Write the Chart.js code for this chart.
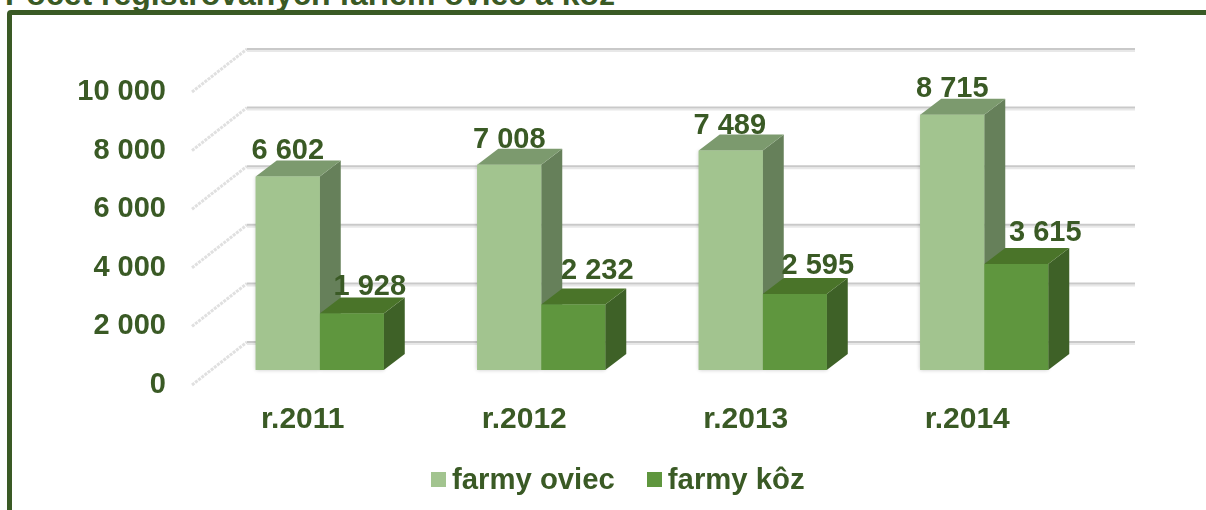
<!DOCTYPE html>
<html><head><meta charset="utf-8">
<script src="https://cdn.jsdelivr.net/npm/chart.js@4"></script>
<style>
html,body{margin:0;padding:0;width:1206px;height:510px;overflow:hidden;background:#fff;font-family:"Liberation Sans",Arial,sans-serif;}
#frame{position:absolute;left:7px;top:10px;width:1300px;height:600px;border:5.5px solid #3A5A25;border-radius:4px;box-sizing:border-box;}
#title{position:absolute;left:5px;top:-24px;font-weight:bold;font-size:32px;color:#3A5A25;white-space:nowrap;line-height:36px;}
#c{position:absolute;left:0;top:0;}
#legend{position:absolute;left:431px;top:462px;display:flex;align-items:center;color:#3A5A25;font-weight:bold;font-size:29.3px;line-height:34px;white-space:nowrap;}
#legend i{display:inline-block;width:15px;height:15px;margin-right:6px;}
#legend span{margin-right:32px;}
</style></head><body>
<div id="title">Počet registrovaných fariem oviec a kôz</div>
<div id="frame"></div>
<canvas id="c" width="1206" height="510"></canvas>
<div id="legend"></div>
<script>
const years = ["r.2011","r.2012","r.2013","r.2014"];
const farmyOviec = [6602,7008,7489,8715];
const farmyKoz = [1928,2232,2595,3615];
const yTicksMax = 10000, yTicksStep = 2000;

const TEXT = '#3A5A25';
const FAMILY = '"Liberation Sans",Arial,sans-serif';
const FONT = {family:FAMILY,weight:'bold',size:29};
const XFONT = {family:FAMILY,weight:'bold',size:30};
const BAR_SHIFT = {x:17,y:-15};
const DEPTH = {x:21,y:-16};
const WALL = {x:55,y:-43,right:1135};
const SKINS = [
 {front:'#A2C48F',top:'#7C9A6E',side:'#66805A'},
 {front:'#5F963E',top:'#4A7429',side:'#3E6127'}
];
const LABEL_NUDGE = [
 [[0,-25.5],[0,-24.5],[-1,-24.5],[0,-25.5]],
 [[18,-26.5],[24,-33.5],[23,-28],[29,-31]]
];
const fmt = v => String(v).replace(/\B(?=(\d{3})+$)/g,' ');

const threeD = {
 id:'threeD',
 beforeDatasetsDraw(chart){
  const {ctx,scales:{y}} = chart, left = chart.chartArea.left;
  ctx.save();
  for(let v=0;v<=yTicksMax;v+=yTicksStep){
   const py = y.getPixelForValue(v);
   ctx.setLineDash([3,1]); ctx.lineWidth=3; ctx.strokeStyle='#E0E0E0';
   ctx.beginPath(); ctx.moveTo(left,py); ctx.lineTo(left+WALL.x,py+WALL.y); ctx.stroke();
   ctx.setLineDash([]);
   ctx.lineWidth=2; ctx.strokeStyle='#E8E8E8';
   ctx.beginPath(); ctx.moveTo(left+WALL.x,py+WALL.y+2); ctx.lineTo(WALL.right,py+WALL.y+2); ctx.stroke();
   ctx.lineWidth=2; ctx.strokeStyle='#C9C9C9';
   ctx.beginPath(); ctx.moveTo(left+WALL.x,py+WALL.y); ctx.lineTo(WALL.right,py+WALL.y); ctx.stroke();
  }
  ctx.translate(BAR_SHIFT.x,BAR_SHIFT.y);
  chart.data.datasets.forEach((ds,i)=>{
   const skin = SKINS[i];
   chart.getDatasetMeta(i).data.forEach(b=>{
    const l=b.x-b.width/2, r=b.x+b.width/2, t=b.y, bot=b.base;
    ctx.save();
    ctx.shadowColor='rgba(0,0,0,0.22)'; ctx.shadowBlur=4;
    ctx.fillStyle=skin.front; ctx.fillRect(l,t,r-l,bot-t);
    ctx.restore();
    ctx.fillStyle=skin.side;
    ctx.beginPath(); ctx.moveTo(r,t); ctx.lineTo(r+DEPTH.x,t+DEPTH.y); ctx.lineTo(r+DEPTH.x,bot+DEPTH.y); ctx.lineTo(r,bot); ctx.closePath(); ctx.fill();
    ctx.fillStyle=skin.top;
    ctx.beginPath(); ctx.moveTo(l,t); ctx.lineTo(l+DEPTH.x,t+DEPTH.y); ctx.lineTo(r+DEPTH.x,t+DEPTH.y); ctx.lineTo(r,t); ctx.closePath(); ctx.fill();
   });
  });
  ctx.restore();
 },
 beforeDatasetDraw(chart){
  chart.ctx.save();
  chart.ctx.translate(BAR_SHIFT.x,BAR_SHIFT.y);
 },
 afterDatasetDraw(chart){ chart.ctx.restore(); },
 afterDatasetsDraw(chart){
  const {ctx} = chart;
  ctx.save();
  ctx.font=`bold ${FONT.size}px ${FAMILY}`; ctx.fillStyle=TEXT; ctx.textAlign='center'; ctx.textBaseline='middle';
  chart.data.datasets.forEach((ds,i)=>{
   chart.getDatasetMeta(i).data.forEach((b,j)=>{
    const n=LABEL_NUDGE[i][j];
    ctx.fillText(fmt(ds.data[j]), b.x+BAR_SHIFT.x+n[0], b.y+BAR_SHIFT.y+n[1]);
   });
  });
  ctx.restore();
 }
};

const chart = new Chart(document.getElementById('c'),{
 type:'bar',
 data:{labels:years,datasets:[
  {label:'farmy oviec',data:farmyOviec,backgroundColor:SKINS[0].front,clip:false},
  {label:'farmy kôz',data:farmyKoz,backgroundColor:SKINS[1].front,clip:false}
 ]},
 options:{
  responsive:false,animation:false,
  layout:{padding:{left:0,top:92,right:128,bottom:0}},
  datasets:{bar:{categoryPercentage:0.578,barPercentage:1,borderWidth:0}},
  plugins:{legend:{display:false},title:{display:false},tooltip:{enabled:false}},
  scales:{
   x:{grid:{display:false,drawTicks:false},border:{display:false},
      ticks:{color:TEXT,font:XFONT,padding:17,maxRotation:0},
      afterFit:s=>{s.height=125;}},
   y:{min:0,max:yTicksMax,grid:{display:false,drawTicks:false},border:{display:false},
      ticks:{stepSize:yTicksStep,color:TEXT,font:FONT,padding:26,callback:fmt},
      afterFit:s=>{s.width=192;}}
  }
 },
 plugins:[threeD]
});

const legendEl=document.getElementById('legend');
chart.data.datasets.forEach(ds=>{
 const box=document.createElement('i'); box.style.background=ds.backgroundColor;
 const txt=document.createElement('span'); txt.textContent=ds.label;
 legendEl.append(box,txt);
});
</script>
</body></html>
